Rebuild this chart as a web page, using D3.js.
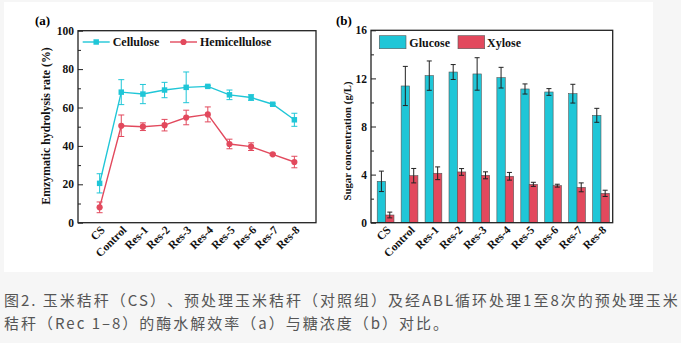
<!DOCTYPE html>
<html>
<head>
<meta charset="utf-8">
<script src="https://cdn.jsdelivr.net/npm/d3@7"></script>
<style>
  body { margin: 0; background: #f6f6f6; }
  svg { display: block; }
  .ser { font-family: "Liberation Serif", "Times New Roman", serif; font-weight: bold; }
  .cap { text-spacing-trim: space-all; }
</style>
</head>
<body>
<script>
const categories = ["CS", "Control", "Res-1", "Res-2", "Res-3", "Res-4", "Res-5", "Res-6", "Res-7", "Res-8"];

// panel (a) hydrolysis rate, %
const cellulose = [20.5, 68, 67, 69.1, 70.5, 71, 66.6, 65.2, 61.7, 53.6];
const celluloseErr = [5, 6.5, 5, 4, 8, 0.5, 2.5, 1.5, 0.5, 3.4];
const hemicellulose = [8, 50.5, 50, 50.8, 54.8, 56.4, 41, 39.6, 35.6, 31.6];
const hemicelluloseErr = [2.8, 5.6, 2, 3, 3.8, 3.9, 2.5, 2, 0.5, 3];

// panel (b) sugar concentration, g/L
const glucose = [3.44, 11.37, 12.23, 12.53, 12.37, 12.06, 11.12, 10.87, 10.73, 8.93];
const glucoseErr = [0.85, 1.63, 1.22, 0.62, 1.35, 0.86, 0.42, 0.28, 0.78, 0.58];
const xylose = [0.64, 3.91, 4.11, 4.22, 3.94, 3.86, 3.19, 3.08, 2.94, 2.44];
const xyloseErr = [0.24, 0.6, 0.53, 0.28, 0.29, 0.32, 0.17, 0.12, 0.37, 0.26];

const yTicksA = [0, 20, 40, 60, 80, 100];
const yMinorA = [10, 30, 50, 70, 90];
const yTicksB = [0, 4, 8, 12, 16];
const yMinorB = [2, 6, 10, 14];

const caption1 = "图2. 玉米秸秆（CS）、预处理玉米秸秆（对照组）及经ABL循环处理1至8次的预处理玉米";
const caption2 = "秸秆（Rec 1–8）的酶水解效率（a）与糖浓度（b）对比。";

const cyan = "#1fc6d7";
const red = "#e2495d";
const W = 681, H = 343;

const svg = d3.select("body").append("svg").attr("width", W).attr("height", H);
svg.append("rect").attr("width", W).attr("height", H).attr("fill", "#f6f6f6");
svg.append("rect").attr("x", 4).attr("y", 2).attr("width", 649).attr("height", 270).attr("fill", "#fff");

function frameAxes(g, x0, x1, y, ticks, minor) {
  g.append("g")
    .attr("transform", `translate(${x0},0)`)
    .call(d3.axisLeft(y).tickValues(ticks).tickSize(-5).tickPadding(4).tickFormat(d3.format("d")))
    .call(a => a.select(".domain").remove())
    .call(a => a.selectAll("text").attr("class", "ser").attr("font-size", 11.5).attr("fill", "#111"));
  g.append("g")
    .attr("transform", `translate(${x0},0)`)
    .call(d3.axisLeft(y).tickValues(minor).tickSize(-3).tickFormat(""))
    .call(a => a.select(".domain").remove());
  g.selectAll(".tick line").attr("stroke", "#222");
  g.append("rect")
    .attr("x", x0).attr("y", y.range()[1])
    .attr("width", x1 - x0).attr("height", y.range()[0] - y.range()[1])
    .attr("fill", "none").attr("stroke", "#222").attr("stroke-width", 1.3);
}

function xLabels(g, xf, yBottom) {
  g.selectAll("text.xl").data(categories).enter().append("text")
    .attr("class", "ser xl")
    .attr("font-size", 11.5)
    .attr("fill", "#111")
    .attr("text-anchor", "end")
    .attr("transform", d => `translate(${xf(d) + 6},${yBottom + 8}) rotate(-45)`)
    .text(d => d);
}

function yTitle(g, x, yc, size, txt) {
  g.append("text").attr("class", "ser").attr("font-size", size).attr("fill", "#111")
    .attr("text-anchor", "middle")
    .attr("transform", `translate(${x},${yc}) rotate(-90)`)
    .text(txt);
}

// ---------- panel (a)
const ga = svg.append("g");
const xa = d3.scalePoint().domain(categories).range([78, 316]).padding(1);
const ya = d3.scaleLinear().domain([0, 100]).range([222.7, 30.7]);
frameAxes(ga, 78, 316, ya, yTicksA, yMinorA);
xLabels(ga, xa, 222.7);
yTitle(ga, 50, 126, 11.8, "Emzymatic hydrolysis rate (%)");
ga.append("text").attr("class", "ser").attr("font-size", 13).attr("x", 35).attr("y", 25).text("(a)");

const seriesA = [
  { name: "Cellulose", vals: cellulose, err: celluloseErr, color: cyan, shape: "square" },
  { name: "Hemicellulose", vals: hemicellulose, err: hemicelluloseErr, color: red, shape: "circle" }
];
const line = d3.line().x((d, i) => xa(categories[i])).y(d => ya(d));

seriesA.forEach(s => {
  const g = ga.append("g");
  g.append("path").datum(s.vals).attr("d", line).attr("fill", "none")
    .attr("stroke", s.color).attr("stroke-width", 1.4);
  const eb = g.selectAll("g.eb").data(s.vals).enter().append("g").attr("stroke", s.color).attr("stroke-width", 1);
  eb.append("line")
    .attr("x1", (d, i) => xa(categories[i])).attr("x2", (d, i) => xa(categories[i]))
    .attr("y1", (d, i) => ya(d + s.err[i])).attr("y2", (d, i) => ya(d - s.err[i]));
  [1, -1].forEach(sg => {
    eb.append("line")
      .attr("x1", (d, i) => xa(categories[i]) - 3).attr("x2", (d, i) => xa(categories[i]) + 3)
      .attr("y1", (d, i) => ya(d + sg * s.err[i])).attr("y2", (d, i) => ya(d + sg * s.err[i]));
  });
  const sym = d3.symbol().type(s.shape === "square" ? d3.symbolSquare : d3.symbolCircle).size(30);
  g.selectAll("path.m").data(s.vals).enter().append("path").attr("class", "m")
    .attr("d", sym)
    .attr("transform", (d, i) => `translate(${xa(categories[i])},${ya(d)})`)
    .attr("fill", s.color);
});

// legend (a)
const legA = [{ x: 82.7, tx: 112.7 }, { x: 170, tx: 200 }];
seriesA.forEach((s, i) => {
  const lx = legA[i].x;
  ga.append("line").attr("x1", lx).attr("x2", lx + 27).attr("y1", 42).attr("y2", 42)
    .attr("stroke", s.color).attr("stroke-width", 1.4);
  ga.append("path").attr("d", d3.symbol().type(s.shape === "square" ? d3.symbolSquare : d3.symbolCircle).size(30))
    .attr("transform", `translate(${lx + 13.5},42)`).attr("fill", s.color);
  ga.append("text").attr("class", "ser").attr("font-size", 12).attr("fill", "#111")
    .attr("x", legA[i].tx).attr("y", 46).text(s.name);
});

// ---------- panel (b)
const gb = svg.append("g");
const xb = d3.scaleBand().domain(categories).range([371, 612.7]).paddingInner(0.3).paddingOuter(0.2).align(0.65);
const sub = d3.scaleBand().domain(["Glucose", "Xylose"]).range([0, xb.bandwidth()]);
const yb = d3.scaleLinear().domain([0, 16]).range([222.7, 30.3]);

const seriesB = [
  { name: "Glucose", vals: glucose, err: glucoseErr, color: cyan },
  { name: "Xylose", vals: xylose, err: xyloseErr, color: red }
];
seriesB.forEach(s => {
  const g = gb.append("g");
  const bx = i => xb(categories[i]) + sub(s.name);
  g.selectAll("rect").data(s.vals).enter().append("rect")
    .attr("x", (d, i) => bx(i)).attr("width", sub.bandwidth())
    .attr("y", d => yb(d)).attr("height", d => yb(0) - yb(d))
    .attr("fill", s.color).attr("stroke", "#555").attr("stroke-width", 0.6);
  const eb = g.selectAll("g.eb").data(s.vals).enter().append("g").attr("stroke", "#222").attr("stroke-width", 1);
  const cx = i => bx(i) + sub.bandwidth() / 2;
  eb.append("line")
    .attr("x1", (d, i) => cx(i)).attr("x2", (d, i) => cx(i))
    .attr("y1", (d, i) => yb(d + s.err[i])).attr("y2", (d, i) => yb(d - s.err[i]));
  [1, -1].forEach(sg => {
    eb.append("line")
      .attr("x1", (d, i) => cx(i) - 2.5).attr("x2", (d, i) => cx(i) + 2.5)
      .attr("y1", (d, i) => yb(d + sg * s.err[i])).attr("y2", (d, i) => yb(d + sg * s.err[i]));
  });
});
frameAxes(gb, 371, 612.7, yb, yTicksB, yMinorB);
xLabels(gb, c => xb(c) + xb.bandwidth() / 2, 222.7);
yTitle(gb, 351, 141, 10.8, "Sugar concentration (g/L)");
gb.append("text").attr("class", "ser").attr("font-size", 13).attr("x", 336).attr("y", 25).text("(b)");

// legend (b)
const legB = [{ x: 379.3, tx: 409.3 }, { x: 458, tx: 487 }];
seriesB.forEach((s, i) => {
  gb.append("rect").attr("x", legB[i].x).attr("y", 35.7).attr("width", 26.7).attr("height", 13)
    .attr("fill", s.color).attr("stroke", "#555").attr("stroke-width", 0.6);
  gb.append("text").attr("class", "ser").attr("font-size", 12).attr("fill", "#111")
    .attr("x", legB[i].tx).attr("y", 46.5).text(s.name);
});

// caption
svg.selectAll("text.cap").data([caption1, caption2]).enter().append("text")
  .attr("class", "cap")
  .attr("x", 4).attr("y", (d, i) => 306 + i * 23)
  .attr("font-family", "'Noto Sans CJK SC', 'Noto Sans', sans-serif")
  .attr("font-size", 15).attr("letter-spacing", 2).attr("fill", "#555")
  .text(d => d);
</script>
</body>
</html>
